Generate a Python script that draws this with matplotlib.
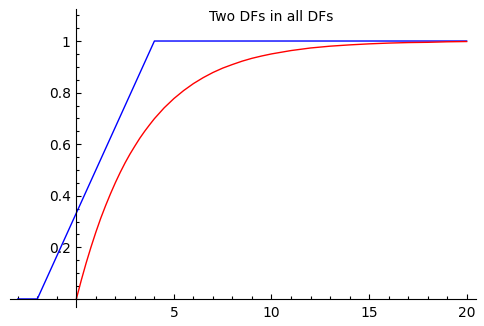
import matplotlib
matplotlib.use("Agg")
import matplotlib.pyplot as plt
from matplotlib.ticker import MultipleLocator, FixedLocator

# uniform distribution function on [-2, 4]
uniform_x = [-3, -2, 4, 20]
uniform_y = [0, 0, 1, 1]

# exponential distribution function
exp_x = [0, 0.25, 0.5, 0.75, 1, 1.25, 1.5, 1.75, 2, 2.25, 2.5, 2.75, 3,
         3.25, 3.5, 3.75, 4, 4.5, 5, 5.5, 6, 6.5, 7, 7.5, 8, 8.5, 9, 9.5,
         10, 11, 12, 13, 14, 15, 16, 17, 18, 19, 20]
exp_y = [0.000, 0.072, 0.139, 0.201, 0.259, 0.313, 0.362, 0.408, 0.451,
         0.491, 0.528, 0.562, 0.593, 0.623, 0.650, 0.675, 0.699, 0.741,
         0.777, 0.808, 0.835, 0.858, 0.878, 0.895, 0.909, 0.922, 0.933,
         0.942, 0.950, 0.963, 0.973, 0.980, 0.985, 0.989, 0.992, 0.994,
         0.995, 0.997, 0.998]

x_ticks = [5, 10, 15, 20]
y_ticks = [0.2, 0.4, 0.6, 0.8, 1.0]
y_tick_labels = ["0.2", "0.4", "0.6", "0.8", "1"]

fig = plt.figure(figsize=(4.84, 3.26), dpi=100)
ax = fig.add_axes([10 / 484, 0.0592, 466 / 484, 0.9123])

ax.plot(uniform_x, uniform_y, color="blue", lw=1.0)
ax.plot(exp_x, exp_y, color="red", lw=1.0)

ax.set_xlim(-3.40, 20.48)
ax.set_ylim(-0.03, 1.123)

# axes crossing at the origin
for side in ("top", "right"):
    ax.spines[side].set_visible(False)
ax.spines["left"].set_position(("data", 0))
ax.spines["bottom"].set_position(("data", 0))
for side in ("left", "bottom"):
    ax.spines[side].set_linewidth(0.8)

ax.xaxis.set_major_locator(FixedLocator(x_ticks))
ax.xaxis.set_minor_locator(MultipleLocator(1))
ax.set_yticks(y_ticks)
ax.set_yticklabels(y_tick_labels)
ax.yaxis.set_minor_locator(MultipleLocator(0.05))

ax.tick_params(which="both", direction="in", labelsize=10, width=0.8)
ax.tick_params(which="major", length=3.5)
ax.tick_params(which="minor", length=2)
ax.tick_params(axis="x", pad=5)
ax.tick_params(axis="y", pad=4)

fig.text(271 / 484, 1 - 17 / 326, "Two DFs in all DFs", ha="center", va="center",
         fontsize=10)

fig.savefig("out.png", dpi=100)
